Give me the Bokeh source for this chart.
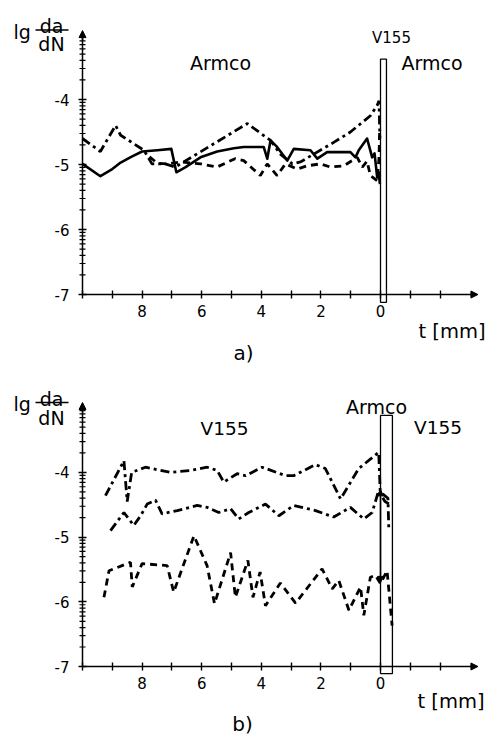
import numpy as np
from bokeh.plotting import figure
from bokeh.models import Range1d, FixedTicker, Label, Arrow, NormalHead
from bokeh.layouts import column
from bokeh.embed import file_html
from bokeh.resources import INLINE

# ---------------- data: panel a) (Armco / V155 layer / Armco) ----------------
a_solid_t = [10.0, 9.40, 9.0, 8.72, 8.35, 8.0, 7.49, 7.02, 6.85, 6.54, 6.04, 5.48, 4.92, 4.59,
             3.92, 3.80, 3.69, 3.47, 3.13, 2.91, 2.35, 2.12, 1.79, 1.01, 0.84, 0.73, 0.45,
             0.28, 0.20, 0.11, 0.06, 0.02]
a_solid_v = [-4.99, -5.18, -5.07, -4.97, -4.88, -4.80, -4.78, -4.76, -5.12, -5.04, -4.89, -4.80,
             -4.75, -4.73, -4.73, -4.91, -4.63, -4.73, -4.94, -4.76, -4.78, -4.91, -4.81, -4.81,
             -4.89, -4.78, -4.60, -4.89, -4.83, -5.20, -5.12, -5.30]

a_dashed_t = [7.75, 7.49, 7.16, 6.71, 6.04, 5.49, 4.88, 4.59, 4.03, 3.80, 3.47, 3.19, 2.80,
              2.46, 2.01, 1.68, 1.23, 0.78, 0.61, 0.45, 0.34, 0.11, 0.05, 0.03]
a_dashed_v = [-4.88, -4.98, -4.99, -4.96, -4.99, -5.04, -4.91, -4.94, -5.17, -4.99, -5.17, -4.99,
              -5.07, -5.02, -4.99, -5.04, -5.02, -4.89, -5.04, -4.95, -5.17, -5.25, -4.90, -4.50]

a_dashdot_t = [10.0, 9.40, 8.89, 8.72, 7.94, 7.67, 7.22, 6.89, 4.47, 4.14, 3.69, 3.36, 2.96,
               2.68, 2.24, 1.57, 1.01, 0.34, 0.11, 0.05, 0.02]
a_dashdot_v = [-4.60, -4.80, -4.40, -4.55, -4.78, -4.99, -4.99, -5.04, -4.37, -4.48, -4.63,
               -4.84, -4.99, -4.96, -4.84, -4.66, -4.50, -4.25, -4.09, -4.02, -4.60]

a_layer = [0.0, -0.2]          # V155 interlayer (t from, t to)
a_layer_v = [-7.12, -3.38]

# ---------------- data: panel b) (V155 / Armco layer / V155) ----------------
b_top_t = [9.23, 8.61, 8.50, 8.35, 7.89, 7.05, 6.38, 5.82, 5.48, 5.26, 4.81, 4.53, 3.97, 3.19,
           2.91, 2.18, 1.85, 1.34, 0.73, 0.06, 0.01, -0.25, -0.28]
b_top_v = [-4.36, -3.82, -4.45, -4.00, -3.92, -4.00, -3.97, -3.92, -3.97, -4.15, -4.02, -4.05,
           -3.92, -4.05, -4.05, -3.88, -3.94, -4.41, -3.94, -3.69, -4.30, -4.40, -4.90]

b_mid_t = [9.06, 8.61, 8.28, 8.05, 7.83, 7.55, 7.33, 6.82, 6.15, 5.82, 5.43, 5.03, 4.76, 4.42,
           3.86, 3.41, 2.91, 2.18, 1.57, 1.01, 0.56, 0.28, 0.06, -0.15, -0.33]
b_mid_v = [-4.90, -4.62, -4.82, -4.67, -4.49, -4.43, -4.64, -4.59, -4.51, -4.54, -4.62, -4.56,
           -4.72, -4.62, -4.49, -4.67, -4.51, -4.59, -4.69, -4.54, -4.72, -4.62, -4.28, -4.45,
           -4.50]

b_dashed_t = [9.28, 9.11, 8.39, 8.33, 8.0, 7.16, 6.94, 6.26, 5.82, 5.57, 5.03, 4.87, 4.45, 4.28,
              4.04, 3.86, 3.36, 2.85, 1.96, 1.62, 1.40, 1.06, 0.67, 0.56, 0.34, 0.17, 0.0,
              -0.22, -0.39]
b_dashed_v = [-5.93, -5.52, -5.39, -5.77, -5.41, -5.44, -5.85, -4.98, -5.44, -6.03, -5.24, -5.93,
              -5.36, -5.93, -5.54, -6.06, -5.71, -6.02, -5.49, -5.80, -5.67, -6.13, -5.77, -6.21,
              -5.62, -5.59, -5.72, -5.52, -6.37]

b_layer = [0.0, -0.4]          # Armco interlayer
b_layer_v = [-7.11, -3.12]
b_jump_v = [-5.70, -4.27]      # marked jump at the interface

x_ticks = list(range(-2, 11))
x_labels = {t: (str(t) if (t % 2 == 0 and 0 <= t <= 8) else "") for t in x_ticks}
y_ticks = [-7, -6, -5, -4]
y_labels = {t: "-%d" % abs(t) for t in y_ticks}
y_axis_t = 10                  # the lg axis stands at t = 10 mm

FONT = "DejaVu Sans"
W = 488
X0, XS = 380.0, 29.8          # page px of t = 0, px per mm


def make_panel(page_top, height, y7, ys, y_tip):
    tx = lambda px: (X0 - px) / XS
    vy = lambda py: -7 + (y7 - py) / ys
    p = figure(width=W, height=height,
               x_range=Range1d(tx(0), tx(W)),
               y_range=Range1d(vy(page_top + height), vy(page_top)),
               output_backend="svg", toolbar_location=None, min_border=0)
    p.outline_line_color = None
    p.xgrid.visible = False
    p.ygrid.visible = False
    p.background_fill_color = "white"
    p.border_fill_color = "white"

    xa = p.xaxis[0]
    xa.fixed_location = -7
    xa.bounds = (-3.1, 10)
    xa.ticker = FixedTicker(ticks=x_ticks, minor_ticks=[])
    xa.major_label_overrides = x_labels
    ya = p.yaxis[0]
    ya.fixed_location = y_axis_t
    ya.bounds = (-7, y_tip - 0.1)
    ya.ticker = FixedTicker(ticks=y_ticks, minor_ticks=[])
    ya.major_label_overrides = y_labels
    for ax in (xa, ya):
        ax.axis_line_width = 1.5
        ax.axis_line_color = "black"
        ax.major_tick_in = 4
        ax.major_tick_out = 4
        ax.major_tick_line_width = 1.4
        ax.major_label_text_font = FONT
        ax.major_label_text_font_size = "15px"
        ax.major_label_text_color = "black"
    xa.major_label_standoff = 6
    ya.major_label_standoff = 9

    # decade sub-ticks lg(k * 10^n), k = 2..9, as short strokes across the axis
    minor = [float(n + np.log10(k)) for n in range(-8, -2) for k in range(2, 10)]
    minor = [m for m in minor if -7 < m < y_tip - 0.12]
    half = 3.0 / XS
    p.segment(x0=[y_axis_t + half] * len(minor), x1=[y_axis_t - half] * len(minor),
              y0=minor, y1=minor, line_color="black", line_width=1.2)

    p.add_layout(Arrow(end=NormalHead(size=7, line_width=1, fill_color="black"),
                       x_start=-3.0, y_start=-7, x_end=-3.27, y_end=-7, line_width=1.5))
    p.add_layout(Arrow(end=NormalHead(size=7, line_width=1, fill_color="black"),
                       x_start=y_axis_t, y_start=y_tip - 0.15, x_end=y_axis_t, y_end=y_tip,
                       line_width=1.5))

    def lab(text, px, py, size, align="center"):
        p.add_layout(Label(x=tx(px), y=vy(py), text=text, text_font=FONT,
                           text_font_size=size, text_align=align,
                           text_baseline="alphabetic", text_color="black"))
    return p, tx, vy, lab


# ---------- panel a ----------
pa, txa, vya, laba = make_panel(0, 368, 294, 65, -2.94)
pa.quad(left=[a_layer[0]], right=[a_layer[1]], bottom=[a_layer_v[0]], top=[a_layer_v[1]],
        fill_color="white", line_color="black", line_width=1.3)
pa.line(a_solid_t, a_solid_v, line_color="black", line_width=2.6, line_join="round")
pa.line(a_dashed_t, a_dashed_v, line_color="black", line_width=2.8, line_dash="7 5")
pa.line(a_dashdot_t, a_dashdot_v, line_color="black", line_width=2.8, line_dash="9 4 3 4")
laba("lg", 13, 31, "19px", "left")
laba("da", 51, 25.5, "19px")
laba("dN", 51, 43, "19px")
pa.line([txa(35), txa(68)], [vya(29.5)] * 2, line_color="black", line_width=1.5)
laba("Armco", 220, 62, "19px")
laba("V155", 391, 37, "15px")
laba("Armco", 431.5, 62, "19px")
laba("t [mm]", 451.5, 331, "19.5px")
laba("a)", 243, 352, "20px")

# ---------- panel b ----------
pb, txb, vyb, labb = make_panel(368, 367, 666, 64.7, -2.92)
pb.quad(left=[b_layer[0]], right=[b_layer[1]], bottom=[b_layer_v[0]], top=[b_layer_v[1]],
        fill_color="white", line_color="black", line_width=1.3)
pb.line(b_top_t, b_top_v, line_color="black", line_width=2.8, line_dash="9 4 3 4")
pb.line(b_mid_t, b_mid_v, line_color="black", line_width=2.8, line_dash="9 4 3 4")
pb.line(b_dashed_t, b_dashed_v, line_color="black", line_width=2.8, line_dash="7 5")
pb.add_layout(Arrow(start=NormalHead(size=6, line_width=1, fill_color="black"),
                    end=NormalHead(size=6, line_width=1, fill_color="black"),
                    x_start=b_layer[0], y_start=b_jump_v[0], x_end=b_layer[0], y_end=b_jump_v[1],
                    line_width=1.5))
labb("lg", 13, 403, "19px", "left")
labb("da", 51, 398, "19px")
labb("dN", 51, 417, "19px")
pb.line([txb(35), txb(68)], [vyb(402)] * 2, line_color="black", line_width=1.5)
labb("V155", 224, 428, "18.5px")
labb("Armco", 376, 406.5, "19px")
labb("V155", 437.5, 427, "18.5px")
labb("t [mm]", 450.5, 701, "19.5px")
labb("b)", 242, 723, "20px")

layout = column(pa, pb, spacing=0)
open("out.html", "w").write(file_html(layout, INLINE))
